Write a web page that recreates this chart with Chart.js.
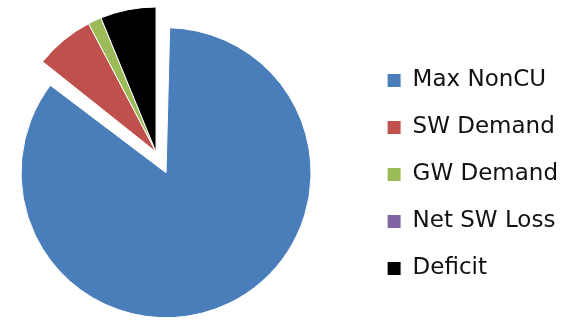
<!DOCTYPE html>
<html>
<head>
<meta charset="utf-8">
<script src="https://cdn.jsdelivr.net/npm/chart.js@4/dist/chart.umd.min.js"></script>
<style>
  html, body { margin: 0; padding: 0; background: #fff; overflow: hidden; }
  #frame { width: 561px; height: 321px; position: relative; overflow: hidden; }
  /* canvas is a bit wider than the frame so the pie sits further left */
  #wrap { position: absolute; left: -51px; top: 0; width: 619px; height: 321px; }
</style>
</head>
<body>
<div id="frame"><div id="wrap"><canvas id="pie"></canvas></div></div>
<script>
// water budget shares (percent of total)
var Categories = ['Max NonCU', 'SW Demand', 'GW Demand', 'Net SW Loss', 'Deficit'];
var Shares = [85.7, 6.6, 1.5, 0, 6.2];
var SliceColors = ['#4a7ebb', '#c0504d', '#9bbb59', '#8064a2', '#000000'];
// first slice is pulled out of the pie (arc moves by offset / 4)
var SliceOffsets = [92, 0, 0, 0, 0];

// Chart.js also grows an offset arc wider than 180 deg by offset / 4,
// take that back so the pulled slice keeps the pie radius
const keepRadius = {
  id: 'keepRadius',
  afterDatasetUpdate(chart, args) {
    const meta = args.meta;
    meta.data.forEach(function (arc, i) {
      const off = (SliceOffsets[i] || 0) / 4;
      if (off && arc.endAngle - arc.startAngle >= Math.PI) {
        arc.outerRadius -= off;
      }
    });
  }
};

const ctx = document.getElementById('pie').getContext('2d');

const data = {
  labels: Categories,
  datasets: [
    {
      data: Shares,
      backgroundColor: SliceColors,
      borderColor: '#ffffff',
      borderWidth: 1,
      offset: SliceOffsets,
      hoverOffset: 0
    }
  ]
};

const config = {
  type: 'pie',
  data: data,
  plugins: [keepRadius],
  options: {
    responsive: true,
    maintainAspectRatio: false,
    animation: false,
    radius: 145,
    layout: {
      padding: { left: 0, right: 0, top: 0, bottom: 17 }
    },
    plugins: {
      legend: {
        position: 'right',
        align: 'end',
        labels: {
          boxWidth: 14,
          boxHeight: 14,
          padding: 24,
          color: '#111111',
          font: { family: 'DejaVu Sans', size: 23 }
        }
      },
      tooltip: { enabled: false }
    }
  }
};

const pieChart = new Chart(ctx, config);
</script>
</body>
</html>
